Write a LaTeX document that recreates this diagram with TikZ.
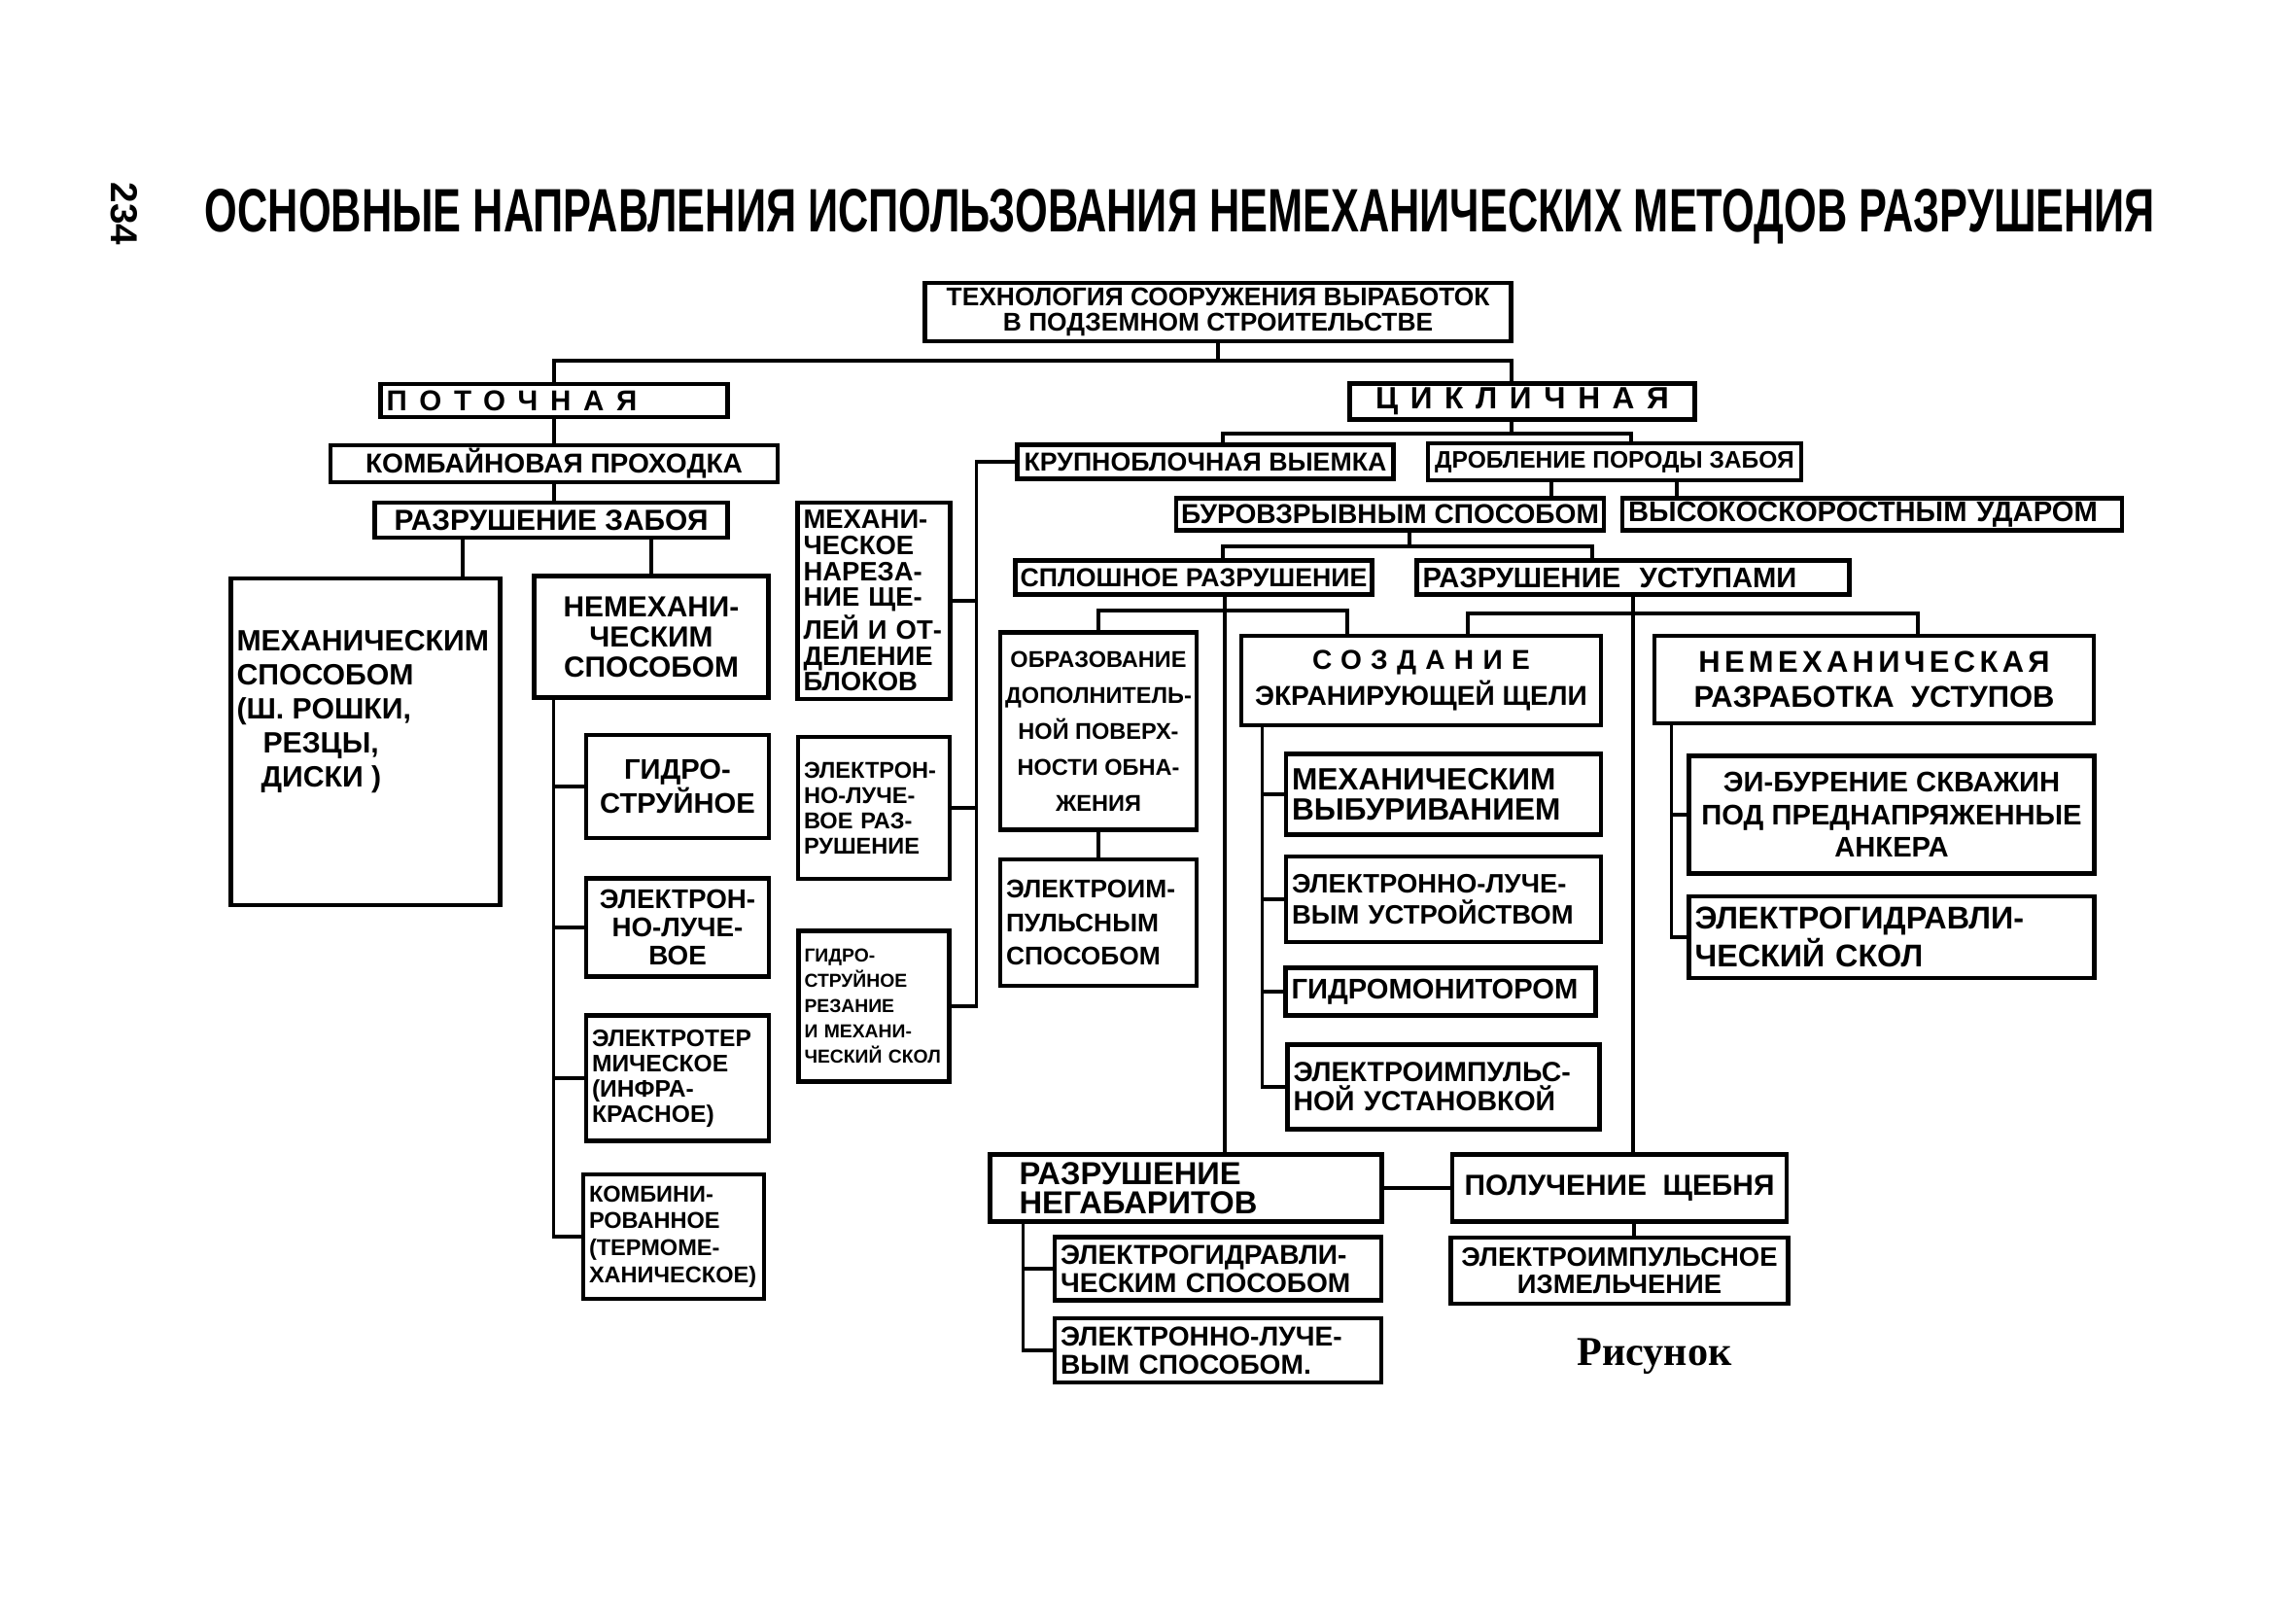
\documentclass[tikz,border=0pt]{standalone}
\usepackage{fontspec}
\setmainfont{Liberation Sans}
\newfontfamily\serifcap{Liberation Serif}
\usepackage{tikz}
\newcommand{\bfsz}[2]{\fontsize{#1}{#2}\selectfont\bfseries}
\tikzset{
  methodnode/.style = {shape=rectangle, draw, line width=1.3pt,
                     anchor=center, align=center,
                     inner sep=1.5pt, inner ysep=1pt},
  methodleft/.style = {methodnode, align=left, inner xsep=0.06cm},
  link/.style = {line width=0.9pt}
}

\begin{document}
\begin{tikzpicture}[node distance=1cm]
            \useasboundingbox (0,0) rectangle (23.62,-16.53);
            \node (title) at (12.14,-2.23) {\resizebox{20.06cm}{0.44cm}{\bfseries ОСНОВНЫЕ НАПРАВЛЕНИЯ ИСПОЛЬЗОВАНИЯ НЕМЕХАНИЧЕСКИХ МЕТОДОВ РАЗРУШЕНИЯ}};
            \node (page) [rotate=-90, font=\bfsz{11}{12}] at (1.28,-2.2) {234};
            \node (tech) [methodnode, minimum width=6.03cm, minimum height=0.6cm, font=\bfsz{7.5}{7.2}] at (12.53,-3.21) {ТЕХНОЛОГИЯ СООРУЖЕНИЯ ВЫРАБОТОК\\В ПОДЗЕМНОМ СТРОИТЕЛЬСТВЕ};

            \node (poto) [methodleft, text width=3.45cm, minimum height=0.34cm, font=\bfsz{8.4}{9}\addfontfeature{LetterSpace=43}] at (5.70,-4.12) {ПОТОЧНАЯ};
            \node (komb) [methodnode, node distance=0.65cm, below of=poto, minimum width=4.6cm, minimum height=0.38cm, font=\bfsz{8}{9}] {КОМБАЙНОВАЯ ПРОХОДКА};
            \node (zab) [methodnode, node distance=0.58cm, below of=komb, xshift=-0.03cm, minimum width=3.63cm, minimum height=0.36cm, font=\bfsz{8.5}{9}] {РАЗРУШЕНИЕ ЗАБОЯ};
            \node (mech) [methodnode, minimum width=2.77cm, minimum height=3.36cm, inner sep=0pt, font=\bfsz{8.6}{10}] at (3.76,-7.63) {\parbox[c][3.3cm][t]{2.65cm}{\vspace*{0.5cm}МЕХАНИЧЕСКИМ\\СПОСОБОМ\\(Ш. РОШКИ,\\\hspace*{0.27cm}РЕЗЦЫ,\\\hspace*{0.25cm}ДИСКИ )}};
            \node (nemech) [methodnode, minimum width=2.41cm, minimum height=1.25cm, font=\bfsz{8.5}{8.8}] at (6.70,-6.55) {НЕМЕХАНИ-\\ЧЕСКИМ\\СПОСОБОМ};
            \node (gidro) [methodnode, minimum width=1.88cm, minimum height=1.06cm, font=\bfsz{8.3}{9}] at (6.97,-8.09) {ГИДРО-\\СТРУЙНОЕ};
            \node (elray) [methodnode, node distance=1.45cm, below of=gidro, minimum width=1.88cm, minimum height=1.01cm, font=\bfsz{7.9}{8.3}] {ЭЛЕКТРОН-\\НО-ЛУЧЕ-\\ВОЕ};
            \node (elterm) [methodleft, node distance=1.55cm, below of=elray, text width=1.76cm, minimum height=1.29cm, font=\bfsz{7}{7.4}] {ЭЛЕКТРОТЕР\\МИЧЕСКОЕ\\(ИНФРА-\\КРАСНОЕ)};
            \node (komb2) [methodleft, node distance=1.63cm, below of=elterm, xshift=-0.04cm, text width=1.74cm, minimum height=1.28cm, font=\bfsz{6.7}{7.9}] {КОМБИНИ-\\РОВАННОЕ\\(ТЕРМОМЕ-\\ХАНИЧЕСКОЕ)};

            \node (narez) [methodleft, text width=1.45cm, minimum height=2.02cm, font=\bfsz{7.8}{7.6}] at (8.99,-6.18) {МЕХАНИ-\\ЧЕСКОЕ\\НАРЕЗА-\\НИЕ ЩЕ-\\ЛЕЙ И ОТ-\\ДЕЛЕНИЕ\\БЛОКОВ};
            \node (elrazr) [methodleft, node distance=2.13cm, below of=narez, text width=1.44cm, minimum height=1.46cm, font=\bfsz{6.7}{7.4}] {ЭЛЕКТРОН-\\НО-ЛУЧЕ-\\ВОЕ РАЗ-\\РУШЕНИЕ};
            \node (gidrorez) [methodleft, node distance=2.04cm, below of=elrazr, text width=1.43cm, minimum height=1.55cm, font=\bfsz{5.5}{7.4}] {ГИДРО-\\СТРУЙНОЕ\\РЕЗАНИЕ\\И МЕХАНИ-\\ЧЕСКИЙ СКОЛ};

            \node (cikl) [methodnode, minimum width=3.55cm, minimum height=0.37cm, font=\bfsz{9}{10}\addfontfeature{LetterSpace=40}] at (15.66,-4.13) {ЦИКЛИЧНАЯ};
            \node (krup) [methodnode, minimum width=3.87cm, minimum height=0.35cm, font=\bfsz{7.6}{8}] at (12.40,-4.75) {КРУПНОБЛОЧНАЯ ВЫЕМКА};
            \node (drob) [methodnode, minimum width=3.84cm, minimum height=0.38cm, font=\bfsz{7}{8}] at (16.61,-4.75) {ДРОБЛЕНИЕ ПОРОДЫ ЗАБОЯ};
            \node (burov) [methodnode, minimum width=4.25cm, minimum height=0.33cm, font=\bfsz{8}{9}] at (14.30,-5.29) {БУРОВЗРЫВНЫМ СПОСОБОМ};
            \node (vysok) [methodleft, text width=5.02cm, minimum height=0.33cm, font=\bfsz{8.3}{9}] at (19.26,-5.29) {ВЫСОКОСКОРОСТНЫМ УДАРОМ};
            \node (splosh) [methodnode, minimum width=3.63cm, minimum height=0.35cm, font=\bfsz{7.6}{8}] at (12.28,-5.94) {СПЛОШНОЕ РАЗРУШЕНИЕ};
            \node (ustup) [methodleft, text width=4.33cm, minimum height=0.35cm, font=\bfsz{8.3}{9}] at (16.80,-5.94) {РАЗРУШЕНИЕ\ \ УСТУПАМИ};

            \node (obraz) [methodnode, minimum width=2.02cm, minimum height=2.03cm, font=\bfsz{6.7}{10.5}] at (11.30,-7.52) {ОБРАЗОВАНИЕ\\ДОПОЛНИТЕЛЬ-\\НОЙ ПОВЕРХ-\\НОСТИ ОБНА-\\ЖЕНИЯ};
            \node (elimp) [methodleft, node distance=1.97cm, below of=obraz, text width=1.90cm, minimum height=1.30cm, font=\bfsz{7.5}{9.9}] {ЭЛЕКТРОИМ-\\ПУЛЬСНЫМ\\СПОСОБОМ};
            \node (sozd) [methodnode, minimum width=3.70cm, minimum height=0.92cm, font=\bfsz{8}{10.7}] at (14.62,-7.00) {{\addfontfeature{LetterSpace=33}СОЗДАНИЕ}\\ЭКРАНИРУЮЩЕЙ ЩЕЛИ};
            \node (vybur) [methodleft, text width=3.12cm, minimum height=0.83cm, font=\bfsz{9}{9}] at (14.85,-8.17) {МЕХАНИЧЕСКИМ\\ВЫБУРИВАНИЕМ};
            \node (ellu) [methodleft, node distance=1.08cm, below of=vybur, text width=3.12cm, minimum height=0.88cm, font=\bfsz{7.8}{9}] {ЭЛЕКТРОННО-ЛУЧЕ-\\ВЫМ УСТРОЙСТВОМ};
            \node (gidromon) [methodleft, node distance=0.95cm, below of=ellu, xshift=-0.03cm, text width=3.07cm, minimum height=0.49cm, font=\bfsz{8.3}{9}] {ГИДРОМОНИТОРОМ};
            \node (elust) [methodleft, node distance=0.98cm, below of=gidromon, xshift=0.03cm, text width=3.09cm, minimum height=0.87cm, font=\bfsz{8.1}{8.6}] {ЭЛЕКТРОИМПУЛЬС-\\НОЙ УСТАНОВКОЙ};

            \node (nemraz) [methodnode, minimum width=4.52cm, minimum height=0.90cm, font=\bfsz{8.8}{10.3}] at (19.28,-6.99) {{\addfontfeature{LetterSpace=14}НЕМЕХАНИЧЕСКАЯ}\\РАЗРАБОТКА\ \ УСТУПОВ};
            \node (eibur) [methodnode, minimum width=4.17cm, minimum height=1.21cm, font=\bfsz{8.3}{9.6}] at (19.46,-8.38) {ЭИ-БУРЕНИЕ СКВАЖИН\\ПОД ПРЕДНАПРЯЖЕННЫЕ\\АНКЕРА};
            \node (elgskol) [methodleft, node distance=1.26cm, below of=eibur, text width=4.05cm, minimum height=0.84cm, font=\bfsz{9.2}{9.9}] {ЭЛЕКТРОГИДРАВЛИ-\\ЧЕСКИЙ СКОЛ};

            \node (negab) [methodleft, text width=3.43cm, inner xsep=0.3cm, minimum height=0.69cm, font=\bfsz{9.3}{8.6}] at (12.20,-12.22) {РАЗРУШЕНИЕ\\НЕГАБАРИТОВ};
            \node (scheb) [methodnode, node distance=4.46cm, right of=negab, minimum width=3.44cm, minimum height=0.69cm, font=\bfsz{8.5}{9}] {ПОЛУЧЕНИЕ\ \ ЩЕБНЯ};
            \node (elizm) [methodnode, node distance=0.85cm, below of=scheb, minimum width=3.47cm, minimum height=0.68cm, font=\bfsz{7.8}{8.2}] {ЭЛЕКТРОИМПУЛЬСНОЕ\\ИЗМЕЛЬЧЕНИЕ};
            \node (elgsp) [methodleft, text width=3.24cm, minimum height=0.65cm, font=\bfsz{8}{8.2}] at (12.53,-13.05) {ЭЛЕКТРОГИДРАВЛИ-\\ЧЕСКИМ СПОСОБОМ};
            \node (ellsp) [methodleft, node distance=0.84cm, below of=elgsp, text width=3.24cm, minimum height=0.66cm, font=\bfsz{8}{8.2}] {ЭЛЕКТРОННО-ЛУЧЕ-\\ВЫМ СПОСОБОМ.};
            \node (fig) [font=\serifcap\bfsz{12}{14}] at (17.02,-13.95) {Рисунок};

            \coordinate (busA) at (0,-3.71);
            \coordinate (busB) at (0,-4.46);
            \coordinate (busC) at (0,-5.62);
            \coordinate (busD) at (0,-6.28);
            \coordinate (busE) at (0,-6.31);
            \coordinate (nemtrunk) at ([xshift=0.22cm]nemech.south west);
            \coordinate (kruptrunk) at ([xshift=0.26cm]gidrorez.east);
            \coordinate (sozdtrunk) at ([xshift=0.24cm]sozd.south west);
            \coordinate (nemrtrunk) at ([xshift=0.2cm]nemraz.south west);
            \coordinate (negtrunk) at ([xshift=0.36cm]negab.south west);

            \draw [link] (tech.south) -- (tech.south |- busA);
            \draw [link] (poto.north) |- ([xshift=-0.11cm]cikl.north |- busA) -- ([xshift=-0.11cm]cikl.north);
            \draw [link] (poto) -- (komb);
            \draw [link] (komb.south) -- (komb.south |- zab.north);
            \draw [link] ([xshift=1cm]mech.north) -- ([xshift=1cm]mech.north |- zab.south);
            \draw [link] (nemech.north) -- (nemech.north |- zab.south);
            \draw [link] (nemtrunk) |- (komb2.west);
            \draw [link] (nemtrunk |- gidro.west) -- (gidro.west);
            \draw [link] (nemtrunk |- elray.west) -- (elray.west);
            \draw [link] (nemtrunk |- elterm.west) -- (elterm.west);

            \draw [link] (krup.west) -| (kruptrunk) -- (gidrorez.east);
            \draw [link] (kruptrunk |- narez.east) -- (narez.east);
            \draw [link] (kruptrunk |- elrazr.east) -- (elrazr.east);

            \draw [link] ([xshift=-0.11cm]cikl.south) -- ([xshift=-0.11cm]cikl.south |- busB);
            \draw [link] ([xshift=0.18cm]krup.north) |- ([xshift=0.17cm]drob.north |- busB) -- ([xshift=0.17cm]drob.north);
            \draw [link] ([xshift=-0.65cm]drob.south) -- ([xshift=-0.65cm]drob.south |- burov.north);
            \draw [link] ([xshift=0.64cm]drob.south) -- ([xshift=0.64cm]drob.south |- vysok.north);
            \draw [link] ([xshift=0.2cm]burov.south) -- ([xshift=0.2cm]burov.south |- busC);
            \draw [link] ([xshift=0.3cm]splosh.north) |- ([xshift=-0.42cm]ustup.north |- busC) -- ([xshift=-0.42cm]ustup.north);

            \draw [link] ([xshift=0.4cm]negab.north) -- ([xshift=0.4cm]negab.north |- splosh.south);
            \draw [link] (obraz.north) |- ([xshift=-0.76cm]sozd.north |- busD) -- ([xshift=-0.76cm]sozd.north);
            \draw [link] (ustup.south) -- (ustup.south |- scheb.north);
            \draw [link] ([xshift=0.48cm]sozd.north) |- ([xshift=0.45cm]nemraz.north |- busE) -- ([xshift=0.45cm]nemraz.north);
            \draw [link] (obraz) -- (elimp);

            \draw [link] (sozdtrunk) |- (elust.west);
            \draw [link] (sozdtrunk |- vybur.west) -- (vybur.west);
            \draw [link] (sozdtrunk |- ellu.west) -- (ellu.west);
            \draw [link] (sozdtrunk |- gidromon.west) -- (gidromon.west);
            \draw [link] (nemrtrunk) |- (elgskol.west);
            \draw [link] (nemrtrunk |- eibur.west) -- (eibur.west);

            \draw [link] (negab) -- (scheb);
            \draw [link] (negtrunk) |- (ellsp.west);
            \draw [link] (negtrunk |- elgsp.west) -- (elgsp.west);
            \draw [link] ([xshift=0.15cm]scheb.south) -- ([xshift=0.15cm]scheb.south |- elizm.north);
\end{tikzpicture}
\end{document}
